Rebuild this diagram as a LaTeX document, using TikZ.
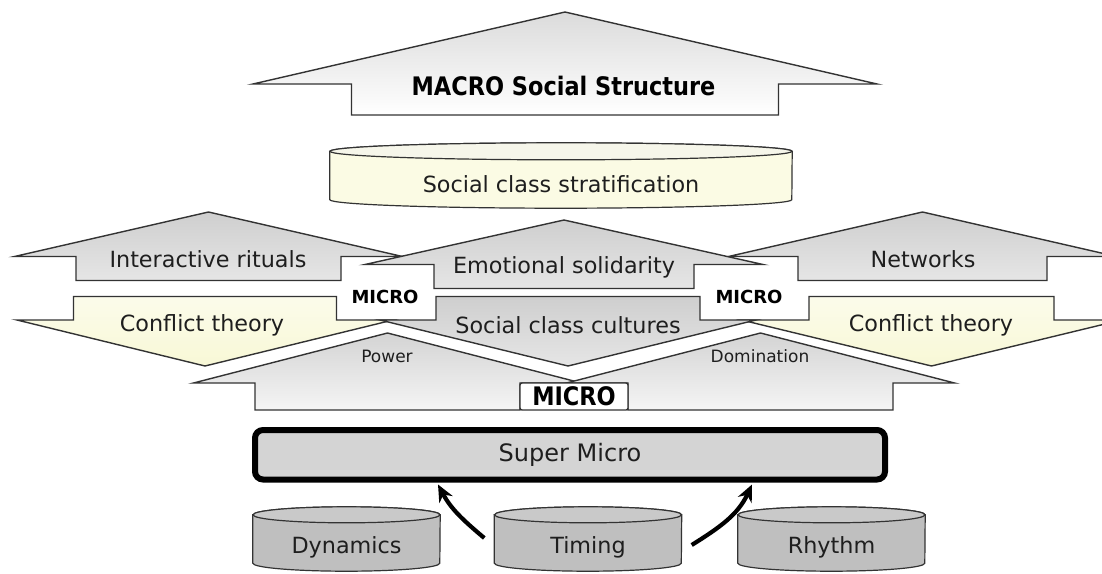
\documentclass[tikz,border=0pt]{standalone}
\usepackage{fontspec}
\setmainfont{DejaVu Sans}
\newfontfamily\narrowbold[FakeStretch=0.88]{DejaVu Sans Bold}
\usepackage{xcolor}
\usepackage{tikz}
\usetikzlibrary{arrows.meta,backgrounds}

\definecolor{edge}{HTML}{333333}
\definecolor{ink}{HTML}{1E1E1E}
\definecolor{cream}{HTML}{F8F8D6}
\definecolor{stratbody}{HTML}{FBFBE4}
\definecolor{stratlid}{HTML}{F6F6EA}
\definecolor{drumbody}{HTML}{BFBFBF}
\definecolor{drumlid}{HTML}{C9C9C9}

\begin{document}
\begin{tikzpicture}[
  x=1pt, y=1pt,
  outline/.style={draw=edge, line width=1.4pt},
  macroarr/.style={outline, top color=black!14, bottom color=white},
  greyarr/.style={outline, top color=black!19, bottom color=black!10},
  creamarr/.style={outline, top color=cream!50!white, bottom color=cream},
  basearr/.style={outline, top color=black!17, bottom color=black!4},
  lbl/.style={text=ink, font=\fontsize{22.3}{26}\selectfont, inner sep=0pt},
  small/.style={text=ink, font=\fontsize{17}{20}\selectfont, inner sep=0pt},
  micro/.style={text=black, font=\bfseries\fontsize{18}{21}\selectfont, inner sep=0pt},
  heavy/.style={text=black, font=\narrowbold\fontsize{25.5}{29}\selectfont, inner sep=0pt},
  drumnode/.style={lbl, minimum height=48},
  drum/.style={draw=edge, line width=1.2pt},
  superbox/.style={lbl, draw=black, line width=6pt, rounded corners=8pt, fill=black!17,
                   minimum width=630, minimum height=49.5, font=\fontsize{24}{28}\selectfont},
  tab/.style={heavy, draw=edge, line width=1.4pt, fill=white, rounded corners=2pt,
              minimum width=108, minimum height=27},
  feed/.style={-{Stealth[length=17pt,width=15pt]}, line width=4.2pt, black}
]
\useasboundingbox (0,0) rectangle (1102,-573);

% block arrows: centre x / tip / wing / base / half head / half shaft
\foreach \cx/\tip/\wing/\base/\hw/\hs in {565/12/84/115/312/213.5}
  \draw[macroarr] (\cx,-\tip) -- (\cx+\hw,-\wing) -- (\cx+\hs,-\wing) -- (\cx+\hs,-\base)
    -- (\cx-\hs,-\base) -- (\cx-\hs,-\wing) -- (\cx-\hw,-\wing) -- cycle;
\foreach \cx/\tip/\wing/\base/\hw/\hs in {208.5/212/256.5/280.5/194/132.5, 922.5/212/256.5/280.5/194/124.5,
                                          564/220/264.5/288.5/199/130}
  \draw[greyarr] (\cx,-\tip) -- (\cx+\hw,-\wing) -- (\cx+\hs,-\wing) -- (\cx+\hs,-\base)
    -- (\cx-\hs,-\base) -- (\cx-\hs,-\wing) -- (\cx-\hw,-\wing) -- cycle;
\foreach \cx/\tip/\wing/\base/\hw/\hs in {205/366/320/296.5/188/131.5, 931.5/366/320/296.5/190/122.5}
  \draw[creamarr] (\cx,-\tip) -- (\cx+\hw,-\wing) -- (\cx+\hs,-\wing) -- (\cx+\hs,-\base)
    -- (\cx-\hs,-\base) -- (\cx-\hs,-\wing) -- (\cx-\hw,-\wing) -- cycle;
\foreach \cx/\tip/\wing/\base/\hw/\hs in {568/366/320/296.5/188/132}
  \draw[greyarr] (\cx,-\tip) -- (\cx+\hw,-\wing) -- (\cx+\hs,-\wing) -- (\cx+\hs,-\base)
    -- (\cx-\hs,-\base) -- (\cx-\hs,-\wing) -- (\cx-\hw,-\wing) -- cycle;
\foreach \cx/\tip/\wing/\base/\hw/\hs in {387.5/333/383/410/194/132.5, 760.5/333/383/410/194/132.5}
  \draw[basearr] (\cx,-\tip) -- (\cx+\hw,-\wing) -- (\cx+\hs,-\wing) -- (\cx+\hs,-\base)
    -- (\cx-\hs,-\base) -- (\cx-\hs,-\wing) -- (\cx-\hw,-\wing) -- cycle;

% labels on the arrows
\node[heavy] (macro) at (563.5,-86) {MACRO Social Structure};
\node[lbl] (rituals) at (208,-259) {Interactive rituals};
\node[lbl] (solidarity) at (564,-267) {Emotional solidarity};
\node[lbl] (networks) at (923,-259) {Networks};
\node[lbl] (conflictl) at (202,-325) {Conflict theory};
\node[lbl] (cultures) at (568,-325) {Social class cultures};
\node[lbl] (conflictr) at (931,-325) {Conflict theory};
\node[micro] (microl) at (385,-297) {MICRO};
\node[micro] (micror) at (749,-297) {MICRO};
\node[small] (power) at (387,-356) {Power};
\node[small] (domination) at (760,-356) {Domination};
\node[tab] (microc) at (574,-396.5) {MICRO};

\node[superbox] (sm) at (570,-454.75) {Super Micro};

% drums
\node[drumnode, minimum width=462] (strat) at (561,-184) {Social class stratification};
\node[drumnode, minimum width=187] (dyn) at (346.5,-547) {Dynamics};
\node[drumnode, minimum width=187] (tim) at (588,-547) {Timing};
\node[drumnode, minimum width=187] (rhy) at (831.5,-547) {Rhythm};
\begin{scope}[on background layer]
  \foreach \n/\rx/\ry/\body/\lid in {strat/231/8.5/stratbody/stratlid, dyn/93.5/8/drumbody/drumlid,
                                     tim/93.5/8/drumbody/drumlid, rhy/93.5/8/drumbody/drumlid}
  {
    \draw[drum, fill=\body] ([yshift=\ry]\n.north west) -- ([yshift=\ry]\n.south west)
      arc[start angle=180, end angle=360, x radius=\rx, y radius=\ry]
      -- ([yshift=\ry]\n.north east)
      arc[start angle=0, end angle=180, x radius=\rx, y radius=\ry] -- cycle;
    \draw[drum, fill=\lid] ([yshift=\ry]\n.north) ellipse[x radius=\rx, y radius=\ry];
  }
\end{scope}

\draw[feed] ([shift={(-10,9)}]tim.west) to[out=140, in=-62] ([xshift=-132,yshift=-2]sm.south);
\draw[feed] ([shift={(10,2)}]tim.east) to[out=32, in=-115] ([xshift=182,yshift=-2]sm.south);
\end{tikzpicture}
\end{document}
